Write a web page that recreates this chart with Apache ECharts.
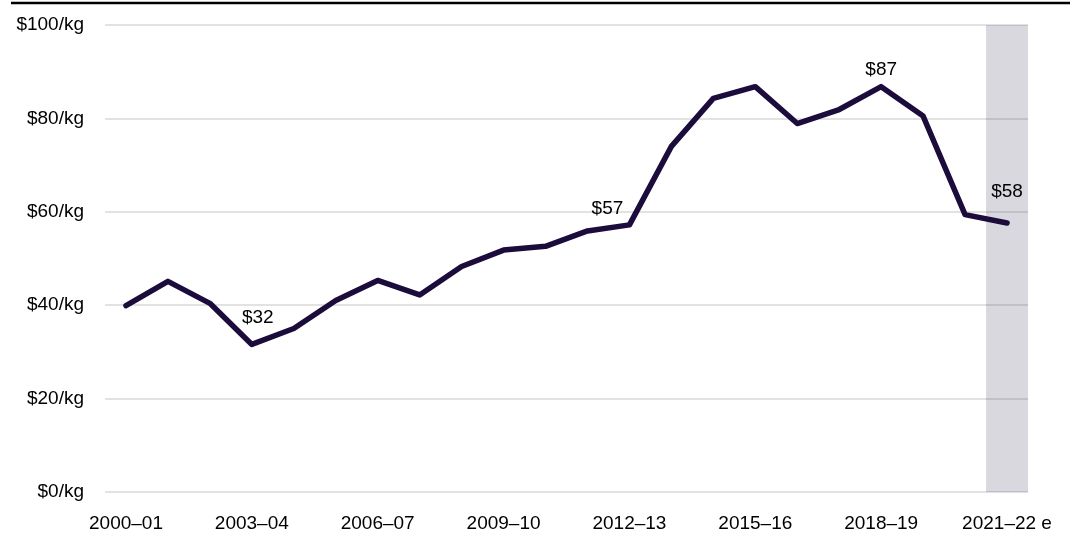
<!DOCTYPE html>
<html>
<head>
<meta charset="utf-8">
<script src="https://cdn.jsdelivr.net/npm/echarts@6/dist/echarts.min.js"></script>
<style>
    html, body { margin: 0; padding: 0; background: #fff; }
    #chart { width: 1070px; height: 534px; }
</style>
</head>
<body>
<div id="chart"></div>
<script>
// 年度分类
const categories = [
    '2000–01', '2001–02', '2002–03', '2003–04', '2004–05', '2005–06', '2006–07', '2007–08',
    '2008–09', '2009–10', '2010–11', '2011–12', '2012–13', '2013–14', '2014–15', '2015–16',
    '2016–17', '2017–18', '2018–19', '2019–20', '2020–21', '2021–22 e'
]
// $/kg
const prices = [
    39.9, 45.1, 40.4, 31.6, 35.0, 41.0, 45.3, 42.2, 48.3, 51.8, 52.6,
    55.9, 57.2, 74.0, 84.3, 86.8, 78.9, 81.9, 86.8, 80.5, 59.4, 57.6
]
const yTicks = [0, 20, 40, 60, 80, 100]
const labelledPoints = ['2003–04', '2012–13', '2018–19', '2021–22 e']
const estimateCategory = '2021–22 e'

const FONT = '"Liberation Sans", Arial, sans-serif'
const FONT_SIZE = 19
const labelOffsets = {
    '2003–04': [6, -17],
    '2012–13': [-22, -7],
    '2018–19': [0, -7],
    '2021–22 e': [0, -22]
}

const yMax = yTicks[yTicks.length - 1]
const shade = categories.map(c => c === estimateCategory ? yMax : null)

const lineData = prices.map((v, i) => {
    const cat = categories[i]
    if (labelledPoints.indexOf(cat) === -1) return v
    return {
        value: v,
        label: {
            show: true,
            position: 'top',
            distance: 0,
            offset: labelOffsets[cat],
            formatter: p => '$' + Math.round(p.value)
        }
    }
})

const myChart = echarts.init(document.getElementById('chart'), null, { renderer: 'canvas' })
myChart.setOption({
    animation: false,
    textStyle: { fontFamily: FONT },
    grid: { left: 105, right: 42, top: 25, bottom: 42, containLabel: false },
    xAxis: {
        type: 'category',
        data: categories,
        boundaryGap: true,
        axisLine: { show: false },
        axisTick: { show: false },
        axisLabel: {
            interval: 2,
            margin: 22,
            color: '#000',
            fontSize: FONT_SIZE,
            fontFamily: FONT
        }
    },
    yAxis: {
        type: 'value',
        min: yTicks[0],
        max: yMax,
        interval: yTicks[1] - yTicks[0],
        axisLine: { show: false },
        axisTick: { show: false },
        axisLabel: {
            margin: 21,
            color: '#000',
            fontSize: FONT_SIZE,
            fontFamily: FONT,
            formatter: v => '$' + v + '/kg'
        },
        splitLine: { lineStyle: { color: '#d9d9d9', width: 1.5 } }
    },
    series: [
        {
            type: 'bar',
            data: shade,
            barWidth: '100%',
            silent: true,
            itemStyle: { color: 'rgba(44, 39, 77, 0.18)' },
            z: 3
        },
        {
            type: 'line',
            data: lineData,
            symbol: 'circle',
            symbolSize: 0,
            showSymbol: true,
            z: 5,
            itemStyle: { color: '#1b0c3c' },
            lineStyle: { color: '#1b0c3c', width: 5.5, cap: 'round', join: 'round' },
            label: { color: '#000', fontSize: FONT_SIZE, fontFamily: FONT }
        }
    ],
    graphic: [
        {
            type: 'line',
            shape: { x1: 11, y1: 3, x2: 1070, y2: 3 },
            style: { stroke: '#000', lineWidth: 2.5 },
            silent: true
        }
    ]
})
</script>
</body>
</html>
